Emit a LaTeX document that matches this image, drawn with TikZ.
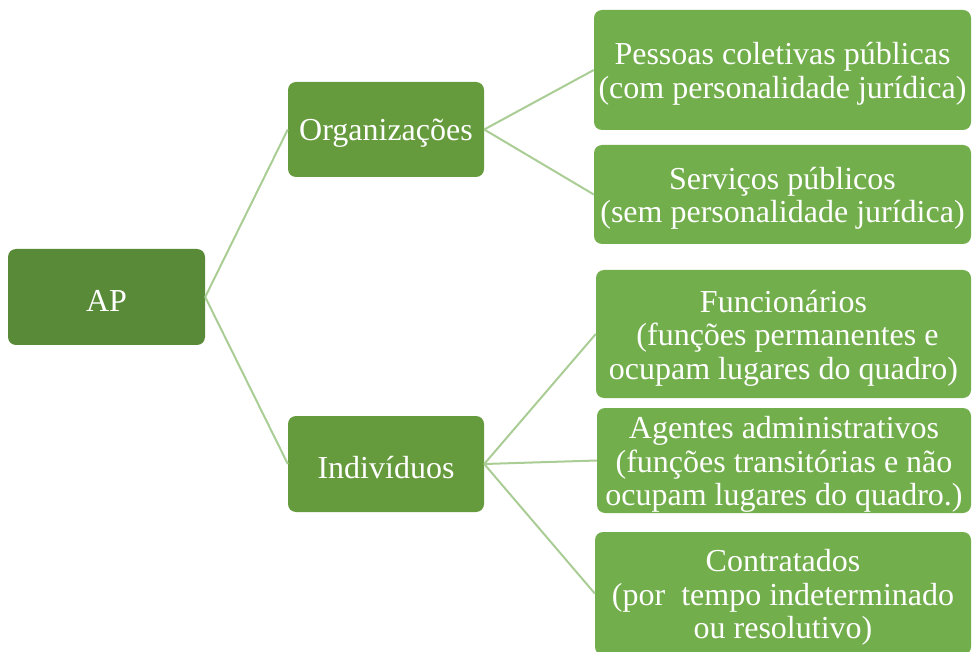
\documentclass[tikz,border=0pt]{standalone}
\usepackage{fontspec}
\setmainfont{Liberation Serif}
\definecolor{rootg}{RGB}{88,138,55}
\definecolor{midg}{RGB}{101,155,61}
\definecolor{leafg}{RGB}{114,174,76}
\definecolor{lineg}{RGB}{169,205,148}
\begin{document}
\begin{tikzpicture}[x=1pt,y=-1pt,
  box/.style={rounded corners=8pt, inner sep=0pt},
  rootbox/.style={box, fill=rootg},
  midbox/.style={box, fill=midg},
  leafbox/.style={box, fill=leafg},
  txt/.style={text=white, align=center, inner sep=0pt, yshift=-4pt,
    font=\fontsize{32}{33.5}\selectfont},
  conn/.style={draw=lineg, line width=2pt}]
\useasboundingbox (0,0) rectangle (972,652);
\clip (0,0) rectangle (972,652);
\node[rootbox, minimum width=197pt, minimum height=96pt] (ap) at (106.5,297) {};
\node[midbox, minimum width=196pt, minimum height=95pt] (org) at (386,129.5) {};
\node[midbox, minimum width=196pt, minimum height=96pt] (ind) at (386,464) {};
\node[leafbox, minimum width=377pt, minimum height=120pt] (pc) at (782.5,70) {};
\node[leafbox, minimum width=377pt, minimum height=99pt] (sp) at (782.5,194.5) {};
\node[leafbox, minimum width=375pt, minimum height=128pt] (fu) at (783.5,334) {};
\node[leafbox, minimum width=374pt, minimum height=105pt] (ag) at (784,460.5) {};
\node[leafbox, minimum width=376pt, minimum height=123pt] (co) at (783,593.5) {};
\node[txt] (tap) at (ap.center) {AP};
\node[txt] (torg) at (org.center) {Organizações};
\node[txt] (tind) at (ind.center) {Indivíduos};
\node[txt] (tpc) at (pc.center) {Pessoas coletivas públicas\\(com personalidade jurídica)};
\node[txt] (tsp) at (sp.center) {Serviços públicos\\(sem personalidade jurídica)};
\node[txt] (tfu) at (fu.center) {Funcionários\\\hphantom{ }(funções permanentes e\\ocupam lugares do quadro)};
\node[txt] (tag) at (ag.center) {Agentes administrativos\\(funções transitórias e não\\ocupam lugares do quadro.)};
\node[txt] (tco) at (co.center) {Contratados\\(por\hspace{0.5em}tempo indeterminado\\ou resolutivo)};
\draw[conn] (ap.east) -- (org.west);
\draw[conn] (ap.east) -- (ind.west);
\draw[conn] (org.east) -- (pc.west);
\draw[conn] (org.east) -- (sp.west);
\draw[conn] (ind.east) -- (fu.west);
\draw[conn] (ind.east) -- (ag.west);
\draw[conn] (ind.east) -- (co.west);
\end{tikzpicture}
\end{document}
